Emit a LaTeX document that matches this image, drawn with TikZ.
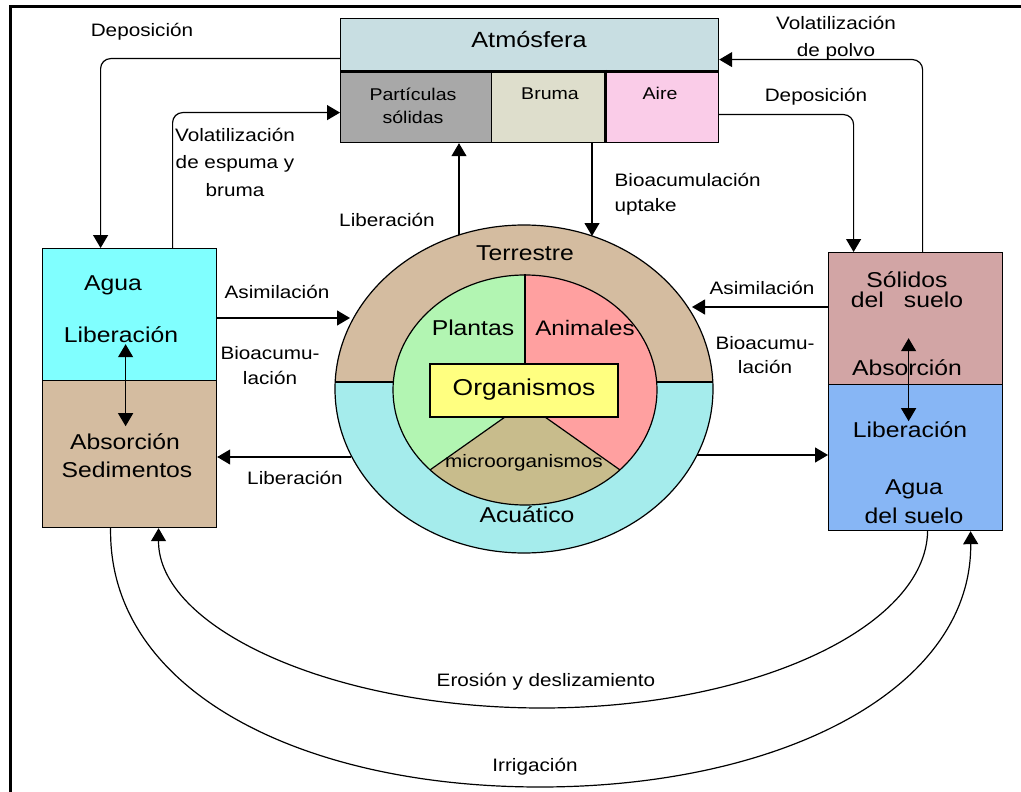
\documentclass[tikz,border=0pt]{standalone}
\usepackage{fontspec}
\setmainfont{Liberation Sans}[FakeStretch=1.15]
\usetikzlibrary{arrows.meta,shapes.geometric}
\definecolor{atmc}{RGB}{200,222,226}
\definecolor{partc}{RGB}{168,168,168}
\definecolor{brumc}{RGB}{222,222,204}
\definecolor{airec}{RGB}{250,204,232}
\definecolor{lwc}{RGB}{128,255,255}
\definecolor{tanc}{RGB}{212,188,160}
\definecolor{acuc}{RGB}{165,236,236}
\definecolor{plac}{RGB}{178,245,178}
\definecolor{anic}{RGB}{255,160,160}
\definecolor{micc}{RGB}{200,188,140}
\definecolor{orgc}{RGB}{255,255,128}
\definecolor{rsc}{RGB}{210,165,165}
\definecolor{rwc}{RGB}{135,182,245}
\begin{document}
\begin{tikzpicture}[x=1pt, y=-1pt, line width=1.2pt,
  arr/.style={-{Triangle[width=15pt,length=13pt]}},
  dbl/.style={{Triangle[width=15pt,length=13pt]}-{Triangle[width=15pt,length=13pt]}},
  cell/.style={draw, anchor=north west, inner sep=0pt},
  lbl/.style={font=\fontsize{18}{25}\selectfont, align=center, inner sep=0pt},
  big/.style={font=\fontsize{21.5}{26}\selectfont, align=center, inner sep=0pt},
  ring/.style={draw, ellipse, inner sep=0pt}]
\useasboundingbox (0,0) rectangle (1021,792);
\fill[white] (0,0) rectangle (1021,792);
% frame
\draw[line width=3pt] (10,792) -- (10,6.5) -- (1021,6.5);

% atmosphere
\node[cell, fill=atmc, minimum width=378pt, minimum height=52pt] (atm) at (340,18) {};
\node[cell, fill=partc, minimum width=151pt, minimum height=72pt] (part) at (340,70) {};
\node[cell, fill=brumc, minimum width=114pt, minimum height=72pt] (bruma) at (491,70) {};
\node[cell, fill=airec, minimum width=113pt, minimum height=72pt] (aire) at (605,70) {};
\draw[line width=3pt] (atm.south west) -- (atm.south east);
\draw[line width=3pt] (aire.north west) -- (aire.south west);
\node[big, font=\fontsize{22}{26}\selectfont] (tatm) at (529,40) {Atmósfera};
\node[lbl, font=\fontsize{17}{23}\selectfont] (tpart) at (413,106) {Partículas\\sólidas};
\node[lbl, font=\fontsize{17}{23}\selectfont] (tbru) at (550,94) {Bruma};
\node[lbl, font=\fontsize{17}{23}\selectfont] (taire) at (660,93) {Aire};

% left box
\node[cell, fill=lwc, minimum width=174pt, minimum height=132pt] (lwat) at (42,248) {};
\node[cell, fill=tanc, minimum width=174pt, minimum height=147pt] (lsed) at (42,380) {};
\node[big] (tagua) at (113,285) {Agua};
\node[big] (tlib) at (121,335) {Liberación};
\node[big] (tabs) at (125,442) {Absorción};
\node[big] (tsed) at (127,470) {Sedimentos};

% right box
\node[cell, fill=rsc, minimum width=174pt, minimum height=132pt] (rsol) at (828,252) {};
\node[cell, fill=rwc, minimum width=174pt, minimum height=146pt] (rwat) at (828,384) {};
\node[big, font=\fontsize{21.5}{20}\selectfont] (tsol) at (907,290) {Sólidos\\del\hspace{20pt}suelo};
\node[big] (tabsr) at (907,368) {Absorción};
\node[big] (tlibr) at (910,430) {Liberación};
\node[big, font=\fontsize{21.5}{29}\selectfont] (taguar) at (914,502) {Agua\\del suelo};

% central ellipse
\fill[acuc] (524,389) ellipse [x radius=189, y radius=164];
\begin{scope}
  \clip (320,200) rectangle (730,382);
  \fill[tanc] (524,389) ellipse [x radius=189, y radius=164];
\end{scope}
\node[ring, minimum width=378pt, minimum height=328pt] (outer) at (524,389) {};
\draw (335.3,382) -- (712.7,382);
\fill[plac] (525,390) ellipse [x radius=132, y radius=115];
\fill[anic] (525,403) -- (525,275) arc [start angle=-90, end angle=44, x radius=132, y radius=115] -- cycle;
\fill[micc] (525,403) -- (619.95,469.9) arc [start angle=44, end angle=136, x radius=132, y radius=115] -- cycle;
\node[ring, minimum width=264pt, minimum height=230pt] (inner) at (525,390) {};
\draw (inner.north) -- (525,364);
\draw (505,417) -- (430.05,469.9);
\draw (545,417) -- (619.95,469.9);
\node[draw, fill=orgc, minimum width=188pt, minimum height=53pt, inner sep=0pt] (org) at (524,390.5) {};
\node[font=\fontsize{23}{26}\selectfont, inner sep=0pt] (torg) at (524,390) {Organismos};
\node[big] (tter) at (525,253) {Terrestre};
\node[big] (tacu) at (527,515) {Acuático};
\node[big] (tpla) at (473,328) {Plantas};
\node[big, font=\fontsize{21}{26}\selectfont] (tani) at (585,328) {Animales};
\node[lbl] (tmic) at (524,463) {microorganismos};

% points on the outer ellipse
\coordinate (e1) at (459,235);
\coordinate (e2) at (592,236);
\coordinate (e3) at (350,318);
\coordinate (e4) at (351,457);
\coordinate (e5) at (692,307);
\coordinate (e6) at (697,455);

% connectors to atmosphere
\draw[arr, rounded corners=10pt] ([yshift=-14pt]atm.west) -| ([xshift=-29pt]lwat.north);
\draw[arr, rounded corners=10pt] ([xshift=43pt]lwat.north) |- ([yshift=-6pt]part.west);
\draw[arr] (e1) -- (e1 |- part.south);
\draw[arr] (bruma.south -| e2) -- (e2);
\draw[arr, rounded corners=10pt] ([xshift=7pt]rsol.north) |- ([yshift=-15pt]atm.east);
\draw[arr, rounded corners=10pt] ([yshift=-8pt]aire.east) -| ([xshift=-62pt]rsol.north);

% side connectors
\draw[arr] (lwat.east |- e3) -- (e3);
\draw[arr] (e4) -- (lsed.east |- e4);
\draw[arr] (rsol.west |- e5) -- (e5);
\draw[arr] (e6) -- (rwat.west |- e6);

% exchange arrows inside boxes
\draw[dbl] ([xshift=-4pt,yshift=37pt]lwat.south) -- ([xshift=-4pt,yshift=-45pt]lwat.south);
\draw[dbl] ([xshift=-7pt,yshift=47pt]rsol.south) -- ([xshift=-7pt,yshift=-36pt]rsol.south);

% bottom curves
\draw[arr] ([xshift=-19pt]lsed.south) .. controls (108,690) and (300,787) .. (540,787)
  .. controls (780,787) and (972,690) .. ([xshift=55pt]rwat.south);
\draw[arr] ([xshift=12pt]rwat.south) .. controls (926,627) and (754,708) .. (542,708)
  .. controls (330,708) and (158,627) .. ([xshift=29pt]lsed.south);

% labels
\node[lbl] (ldepl) at (142,32) {Deposición};
\node[lbl, font=\fontsize{18}{27.5}\selectfont] (lvole) at (235,162) {Volatilización\\de espuma y\\bruma};
\node[lbl] (llibu) at (387,220) {Liberación};
\node[lbl, align=left, anchor=west] (lbiou) at (614,194) {Bioacumulación\\uptake};
\node[lbl, font=\fontsize{18}{27}\selectfont] (lvolp) at (836,38) {Volatilización\\de polvo};
\node[lbl] (ldepr) at (816,97) {Deposición};
\node[lbl] (lasiml) at (277,292) {Asimilación};
\node[lbl] (lbiol) at (270,366) {Bioacumu-\\lación};
\node[lbl] (llibl) at (295,478) {Liberación};
\node[lbl] (lasimr) at (762,288) {Asimilación};
\node[lbl, font=\fontsize{18}{24}\selectfont] (lbior) at (765,355) {Bioacumu-\\lación};
\node[lbl] (lero) at (546,682) {Erosión y deslizamiento};
\node[lbl] (lirr) at (535,767) {Irrigación};
\end{tikzpicture}
\end{document}
